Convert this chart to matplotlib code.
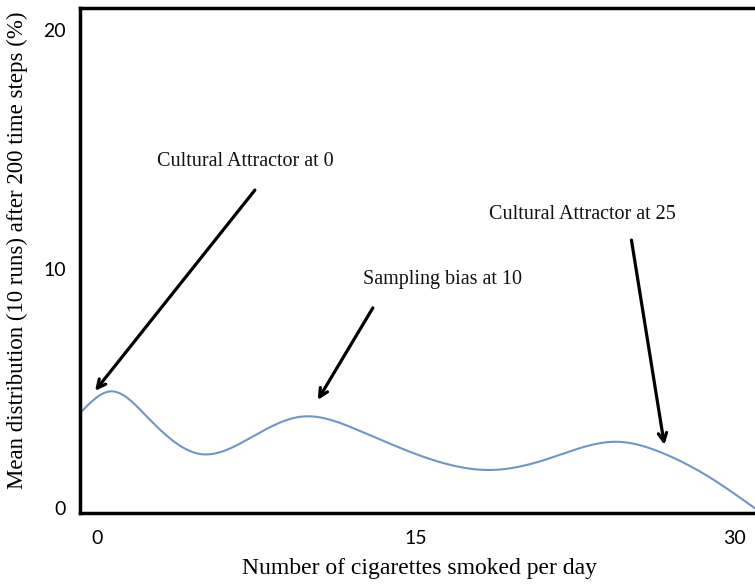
import numpy as np
import matplotlib
matplotlib.use('Agg')
import matplotlib.pyplot as plt

# curve (x = cigarettes per day, y = mean distribution %)
curve_x = [-0.80, 0.65, 2.35, 4.84, 7.05, 9.60, 12.30, 15.50, 18.50, 21.20,
           24.50, 26.50, 28.80, 30.94]
curve_y = [3.97, 4.88, 3.82, 2.26, 2.85, 3.82, 3.25, 2.10, 1.59, 2.05,
           2.77, 2.34, 1.30, 0.00]

# annotations: label, text position, arrow tail, arrow head
labels = ["Cultural Attractor at 0", "Sampling bias at 10", "Cultural Attractor at 25"]
text_xy = [(7.0, 14.48), (16.27, 9.54), (22.85, 12.26)]
tail_xy = [(7.43, 13.3), (12.98, 8.37), (25.15, 11.21)]
head_xy = [(-0.09, 4.90), (10.39, 4.52), (26.7, 2.64)]

xticks = [0, 15, 30]
yticks = [0, 10, 20]


# natural cubic spline through the read points, so the line looks smooth
def spline(x, y, xx):
    x = np.asarray(x, float)
    y = np.asarray(y, float)
    n = len(x)
    h = np.diff(x)
    A = np.zeros((n, n))
    r = np.zeros(n)
    A[0, 0] = A[-1, -1] = 1
    for i in range(1, n - 1):
        A[i, i - 1] = h[i - 1]
        A[i, i] = 2 * (h[i - 1] + h[i])
        A[i, i + 1] = h[i]
        r[i] = 3 * ((y[i + 1] - y[i]) / h[i] - (y[i] - y[i - 1]) / h[i - 1])
    c = np.linalg.solve(A, r)
    b = (y[1:] - y[:-1]) / h - h * (2 * c[:-1] + c[1:]) / 3
    d = (c[1:] - c[:-1]) / (3 * h)
    k = np.clip(np.searchsorted(x, xx) - 1, 0, n - 2)
    dx = xx - x[k]
    return y[k] + b[k] * dx + c[k] * dx ** 2 + d[k] * dx ** 3


sx = np.linspace(curve_x[0], curve_x[-1], 800)
sy = spline(curve_x, curve_y, sx)

fig = plt.figure(figsize=(7.55, 5.88), dpi=100)
ax = fig.add_axes([80 / 755, 1 - 513 / 588, 680 / 755, 505.5 / 588])

ax.plot(sx, sy, color='#6f95c9', lw=1.5, clip_on=False)

for lab, txy, a, b in zip(labels, text_xy, tail_xy, head_xy):
    ax.text(txy[0], txy[1], lab, ha='center', va='center',
            family='Liberation Serif', fontsize=14.5, color='#111111')
    ax.annotate('', xy=b, xytext=a,
                arrowprops=dict(arrowstyle='->,head_length=0.6,head_width=0.3',
                                color='black', lw=2.3, shrinkA=0, shrinkB=0))

ax.set_xlim(-0.8, 31.2)
ax.set_ylim(-0.21, 20.94)
ax.set_xticks(xticks)
ax.set_yticks(yticks)
ax.tick_params(length=0, labelsize=14)
ax.tick_params(axis='x', pad=12)
ax.tick_params(axis='y', pad=10)
for lbl in ax.get_xticklabels() + ax.get_yticklabels():
    lbl.set_family('Lato')

for side in ['left', 'top', 'bottom']:
    ax.spines[side].set_linewidth(2.5)
    ax.spines[side].set_color('black')
ax.spines['right'].set_visible(False)

ax.set_xlabel('Number of cigarettes smoked per day', family='Liberation Serif',
              fontsize=17, labelpad=8)
ax.set_ylabel('Mean distribution (10 runs) after 200 time steps (%)',
              family='Liberation Serif', fontsize=16.5)
ax.yaxis.set_label_coords(-0.077, 0.52)

fig.savefig('out.png', dpi=100)
